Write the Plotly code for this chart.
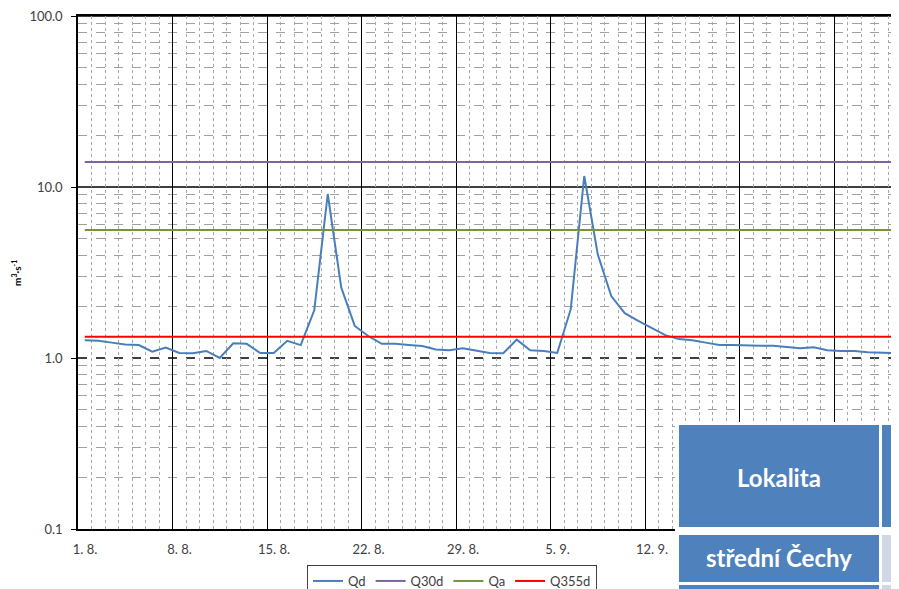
import plotly.graph_objects as go

# ---- data ----
days = list(range(1, 62))  # 1. 8. .. 30. 9.
qd = [1.27, 1.26, 1.23, 1.20, 1.19, 1.09, 1.15, 1.07, 1.065, 1.10,
      1.00, 1.22, 1.21, 1.07, 1.07, 1.26, 1.19, 1.90, 9.1, 2.58,
      1.54, 1.345, 1.21, 1.21, 1.19, 1.175, 1.12, 1.11, 1.14, 1.10,
      1.07, 1.065, 1.28, 1.11, 1.10, 1.07, 1.93, 11.6, 4.04, 2.30,
      1.83, 1.65, 1.49, 1.36, 1.29, 1.27, 1.23, 1.19, 1.19, 1.18,
      1.18, 1.18, 1.155, 1.14, 1.155, 1.11, 1.10, 1.10, 1.08, 1.08,
      1.07]
q30d_value = 14.0
qa_value = 5.6
q355d_value = 1.33
ref_line_value = 1.0

week_ticks = [0, 7, 14, 21, 28, 35, 42, 49, 56]
# the last two labels are hidden behind the overlaid table in the reference
week_labels = ["1. 8.", "8. 8.", "15. 8.", "22. 8.", "29. 8.", "5. 9.", "12. 9.", "", ""]
y_tickvals = [0.1, 1, 10, 100]
y_ticktext = ["0.1", "1.0", "10.0", "100.0"]
y_minor = [m * d for d in (0.1, 1, 10) for m in range(2, 10)]

x_centers = [d - 0.5 for d in days]

FONT = "Lato"
fig = go.Figure()
fig.add_trace(go.Scatter(x=x_centers, y=qd, name="Qd", mode="lines",
                         line=dict(color="#4A7EBB", width=2)))
fig.add_trace(go.Scatter(x=x_centers, y=[q30d_value] * len(days), name="Q30d", mode="lines",
                         line=dict(color="#8064A2", width=2)))
fig.add_trace(go.Scatter(x=x_centers, y=[qa_value] * len(days), name="Qa", mode="lines",
                         line=dict(color="#77933C", width=2)))
fig.add_trace(go.Scatter(x=x_centers, y=[q355d_value] * len(days), name="Q355d", mode="lines",
                         line=dict(color="#FF0000", width=2)))

# the page body has an 8px margin, so figure pixels = page pixels - 8
OFF = 8
W, H = 891, 589
L = 78 - OFF
T = 16 - OFF
B = H - (529 - OFF)
PW = W - L
PH = H - T - B
DAY_PX = 13.5

def px(x):
    return (x - OFF - L) / PW

def py(y):
    return (H - B - (y - OFF)) / PH

shapes = []
for v in (10, 100):
    shapes.append(dict(type="line", xref="paper", yref="y", x0=0, x1=1, y0=v, y1=v,
                       line=dict(color="#000000", width=1.3), layer="between"))
shapes.append(dict(type="line", xref="paper", yref="y", x0=0, x1=1, y0=ref_line_value, y1=ref_line_value,
                   line=dict(color="#000000", width=1.3, dash="dash"), layer="between"))

# overlaid table (decoration)
def rect(x0, y0, x1, y1, color):
    return dict(type="rect", xref="paper", yref="paper", x0=px(x0), x1=px(x1), y0=py(y1), y1=py(y0),
                fillcolor=color, line=dict(width=0), layer="above")

shapes.append(rect(675, 422, 910, 610, "#FFFFFF"))
shapes.append(rect(679, 425, 879, 527, "#4F81BD"))
shapes.append(rect(882, 425, 910, 527, "#4F81BD"))
shapes.append(rect(679, 535, 879, 582, "#4F81BD"))
shapes.append(rect(882, 535, 910, 582, "#D0D8E8"))
shapes.append(rect(679, 585, 879, 610, "#4F81BD"))
shapes.append(rect(882, 585, 910, 610, "#D0D8E8"))

annotations = [
    dict(text="<b>Lokalita</b>", xref="paper", yref="paper", x=px(779), y=py(477),
         xanchor="center", yanchor="middle",
         showarrow=False, font=dict(family=FONT, size=24, color="#FFFFFF")),
    dict(text="<b>střední Čechy</b>", xref="paper", yref="paper", x=px(779), y=py(557),
         xanchor="center", yanchor="middle",
         showarrow=False, font=dict(family=FONT, size=24, color="#FFFFFF")),
    dict(text="<b>m<sup>3</sup>·s<sup>-1</sup></b>", xref="paper", yref="paper", x=px(16), y=py(273),
         xanchor="center", yanchor="middle",
         showarrow=False, textangle=-90, font=dict(family=FONT, size=10, color="#000000")),
]

fig.update_layout(
    template="none",
    width=W, height=H,
    margin=dict(l=L, r=0, t=T, b=B, autoexpand=False),
    plot_bgcolor="#FFFFFF", paper_bgcolor="#FFFFFF",
    font=dict(family=FONT, size=13, color="#404040"),
    showlegend=True,
    legend=dict(orientation="h", x=px(452), xanchor="center", y=py(565), yanchor="top",
                bordercolor="#404040", borderwidth=1, font=dict(size=13, color="#404040"),
                itemwidth=30, tracegroupgap=0, bgcolor="#FFFFFF"),
    shapes=shapes,
    annotations=annotations,
    xaxis=dict(automargin=False, range=[0, PW / DAY_PX], tickmode="array", tickvals=week_ticks,
               ticktext=week_labels, ticklabelshift=7, ticks="", ticklabelstandoff=8,
               showgrid=True, gridcolor="#000000", gridwidth=1,
               minor=dict(dtick=1, tick0=0, showgrid=True, gridcolor="#A8A8A8", griddash="dot", gridwidth=1),
               showline=True, linecolor="#000000", linewidth=1.5, mirror=True, zeroline=False,
               ticklabeloverflow="allow"),
    yaxis=dict(automargin=False, type="log", range=[-1, 2], tickmode="array", tickvals=y_tickvals,
               ticktext=y_ticktext, ticks="outside", ticklen=5, tickcolor="#000000", ticklabelstandoff=6,
               showgrid=False, ticklabeloverflow="allow",
               minor=dict(tickvals=y_minor, showgrid=True, gridcolor="#A0A0A0", griddash="dash", gridwidth=1),
               showline=True, linecolor="#000000", linewidth=1.5, zeroline=False),
)

fig.write_html("out.html")
